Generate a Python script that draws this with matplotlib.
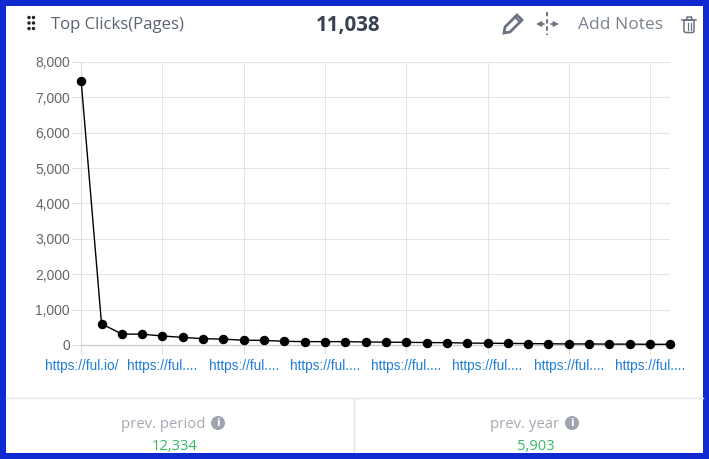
import matplotlib
matplotlib.use("Agg")
import matplotlib.pyplot as plt
from matplotlib.patches import Rectangle, Circle, Polygon

W, H = 709, 459
BLUE = "#0f2bcf"

clicks = [7450, 600, 310, 305, 255, 215, 180, 165, 135, 130,
          105, 95, 95, 95, 85, 80, 75, 70, 65, 55,
          50, 45, 40, 35, 30, 30, 25, 25, 20, 20]
x_labels = ["https://ful.io/", "https://ful....", "https://ful....", "https://ful....",
            "https://ful....", "https://ful....", "https://ful....", "https://ful...."]
y_ticks = [0, 1000, 2000, 3000, 4000, 5000, 6000, 7000, 8000]
title = "Top Clicks(Pages)"
total = "11,038"
notes = "Add Notes"
prev_names = ["prev. period", "prev. year"]
prev_values = ["12,334", "5,903"]

fig = plt.figure(figsize=(W / 100, H / 100), dpi=100, facecolor="white")

# pixel overlay
bg = fig.add_axes([0, 0, 1, 1], zorder=0)
bg.set_xlim(0, W)
bg.set_ylim(H, 0)
bg.axis("off")
for r in [(0, 0, W, 6), (0, 0, 6, H), (703, 0, 6, H)]:
    bg.add_patch(Rectangle((r[0], r[1]), r[2], r[3], color=BLUE, lw=0))
bg.plot([6, 703], [397.5, 397.5], color="#e3e5e8", lw=1)
bg.plot([354, 354], [397.5, 453], color="#e3e5e8", lw=1)

# chart
ax = fig.add_axes([81.2 / W, 1 - 345 / H, (670.4 - 81.2) / W, (345 - 62) / H], zorder=1)
ax.patch.set_alpha(0)
xs = list(range(len(clicks)))
ax.plot(xs, clicks, color="black", lw=1.0, marker="o", ms=5.8, clip_on=False, zorder=5)
ax.set_xlim(0, len(clicks) - 1)
ax.set_ylim(0, 8000)
ax.set_xticks(xs[::4])
ax.set_xticklabels(x_labels, family="Liberation Sans", fontsize=9.8, color="#1e7fd6")
ax.set_yticks(y_ticks)
ax.set_yticklabels([f"{v:,}" for v in y_ticks], family="Liberation Sans", fontsize=10, color="#666666")
ax.grid(True, color="#e4e4e4", lw=0.75)
ax.set_axisbelow(True)
ax.tick_params(axis="both", length=6.5, width=0.75, color="#dddddd")
ax.tick_params(axis="y", pad=1.5)
ax.tick_params(axis="x", pad=3.5)
for s in ["top", "right"]:
    ax.spines[s].set_visible(False)
ax.spines["bottom"].set_color("#cccccc")
ax.spines["bottom"].set_linewidth(0.9)
ax.spines["left"].set_color("#dddddd")
ax.spines["left"].set_linewidth(0.75)
for lab in ax.get_yticklabels():
    lab.set_y(lab.get_position()[1])

# header text
TXT = "#5b6472"
bg.text(51, 25, title, family="Open Sans", fontsize=12.1, color=TXT, va="center", ha="left")
bg.text(348, 25.5, total, family="Open Sans", fontsize=14.8, weight="bold", color="#374151", va="center", ha="center")
bg.text(620, 25, notes, family="Open Sans", fontsize=12.5, color="#7b8390", va="center", ha="center")

# grip
for gx in (29, 33.5):
    for gy in (17.5, 23, 28.5):
        bg.add_patch(Circle((gx, gy), 1.7, color="#222222", lw=0))

# pencil
ICON = "#6b7280"
bg.add_patch(Polygon([(504, 33), (505, 27), (517, 15), (522, 20), (510, 32)], closed=True, fc="none", ec=ICON, lw=2.0))
bg.plot([515, 520], [17, 22], color=ICON, lw=1.6)

# split arrows
bg.plot([547, 547], [12, 35], color=ICON, lw=1.4, ls=(0, (2.2, 1.5)))
bg.annotate("", xy=(536, 24), xytext=(544, 24), arrowprops=dict(arrowstyle="-|>", color=ICON, lw=1.2, mutation_scale=7, shrinkA=0, shrinkB=0))
bg.annotate("", xy=(559, 24), xytext=(551, 24), arrowprops=dict(arrowstyle="-|>", color=ICON, lw=1.2, mutation_scale=7, shrinkA=0, shrinkB=0))

# trash
bg.add_patch(Polygon([(684, 20), (684, 31.5), (685.5, 32.5), (693, 32.5), (694, 31.5), (694, 20)], closed=True, fc="none", ec=ICON, lw=1.1))
bg.plot([682, 696], [20, 20], color=ICON, lw=1.1)
bg.plot([686.5, 687, 691.5, 692], [20, 17, 17, 20], color=ICON, lw=1.1)
bg.plot([687.5, 687.5], [23, 29.5], color=ICON, lw=0.9)
bg.plot([690.5, 690.5], [23, 29.5], color=ICON, lw=0.9)

# footer
GREY = "#a3a8b3"
GREEN = "#35b866"
for name, val, cx, ix, vx in [(prev_names[0], prev_values[0], 163, 218, 175),
                              (prev_names[1], prev_values[1], 525, 572, 536)]:
    bg.text(cx, 424, name, family="Open Sans", fontsize=10.7, color=GREY, va="center", ha="center")
    bg.add_patch(Circle((ix, 423), 7, color="#9da3af", lw=0))
    bg.text(ix, 423, "i", family="DejaVu Sans", fontsize=7.5, weight="bold", color="white", va="center", ha="center")
    bg.text(vx, 447, val, family="Open Sans", fontsize=10.6, color=GREEN, va="center", ha="center")
# the bottom frame covers the foot of the footer text
bg.add_patch(Rectangle((0, 453), W, 6, color=BLUE, lw=0, zorder=10))

fig.savefig("out.png", dpi=100)
